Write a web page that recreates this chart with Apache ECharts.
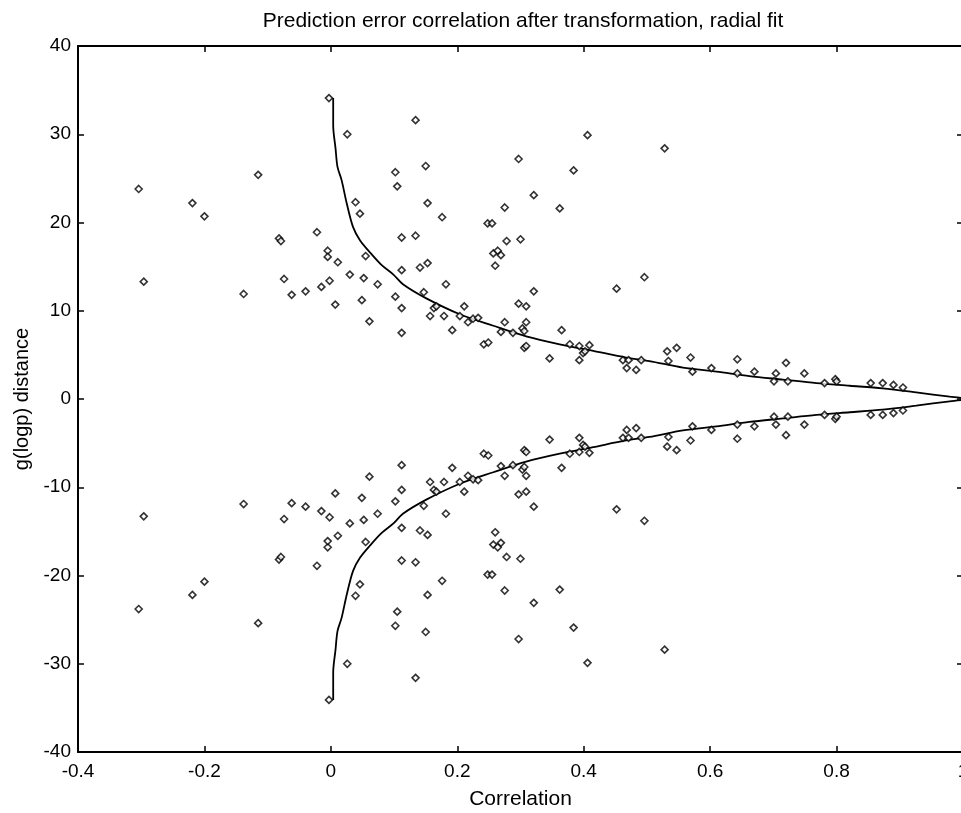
<!DOCTYPE html>
<html>
<head>
<meta charset="utf-8">
<script src="https://cdn.jsdelivr.net/npm/echarts@6/dist/echarts.min.js"></script>
<style>
  html, body { margin: 0; padding: 0; background: #fff; }
  #chart { width: 961px; height: 813px; }
</style>
</head>
<body>
<div id="chart"></div>
<script>
// correlation of each sample (x), shared by both halves
var corrX = [
  -0.304, -0.296, -0.219, -0.200, -0.138, -0.115, -0.082, -0.079, -0.074, -0.062,
  -0.040, -0.022, -0.015, -0.005, -0.005, -0.002, -0.003, 0.011, 0.007, 0.026,
  0.030, 0.039, 0.046, 0.052, 0.049, 0.055, 0.061, 0.074, 0.102, 0.105,
  0.102, 0.112, 0.112, 0.112, 0.112, 0.134, 0.134, 0.141, 0.150, 0.153,
  0.153, 0.147, 0.157, 0.163, 0.167, 0.176, 0.179, 0.182, 0.192, 0.204,
  0.211, 0.217, 0.225, 0.233, 0.242, 0.249, 0.248, 0.255, 0.257, 0.264,
  0.269, 0.260, 0.269, 0.275, 0.278, 0.275, 0.288, 0.297, 0.300, 0.297,
  0.309, 0.303, 0.306, 0.309, 0.306, 0.309, 0.321, 0.321, 0.346, 0.362,
  0.365, 0.378, 0.384, 0.393, 0.393, 0.399, 0.402, 0.406, 0.409, 0.452,
  0.462, 0.471, 0.468, 0.483, 0.491, 0.496, 0.528, 0.532, 0.547, 0.534,
  0.569, 0.572, 0.602, 0.643, 0.643, 0.670, 0.704, 0.701, 0.720, 0.723,
  0.749, 0.781, 0.798, 0.800, 0.854, 0.873, 0.890, 0.905
];
// g(logp) distance, upper half
var distUpper = [
  23.8, 13.3, 22.2, 20.7, 11.9, 25.4, 18.2, 17.9, 13.6, 11.8,
  12.2, 18.9, 12.7, 16.8, 16.1, 13.4, 34.1, 15.5, 10.7, 30.0,
  14.1, 22.3, 21.0, 13.7, 11.2, 16.2, 8.8, 13.0, 25.7, 24.1,
  11.6, 18.3, 14.6, 10.3, 7.5, 31.6, 18.5, 14.9, 26.4, 22.2,
  15.4, 12.1, 9.4, 10.3, 10.5, 20.6, 9.4, 13.0, 7.8, 9.4,
  10.5, 8.7, 9.1, 9.2, 6.2, 6.4, 19.9, 19.9, 16.5, 16.8,
  16.3, 15.1, 7.6, 21.7, 17.9, 8.7, 7.5, 27.2, 18.1, 10.8,
  10.5, 8.0, 7.7, 8.7, 5.8, 6.0, 23.1, 12.2, 4.6, 21.6,
  7.8, 6.2, 25.9, 6.0, 4.4, 5.2, 5.4, 29.9, 6.1, 12.5,
  4.4, 4.4, 3.5, 3.3, 4.4, 13.8, 28.4, 5.4, 5.8, 4.3,
  4.7, 3.1, 3.5, 4.5, 2.9, 3.1, 2.9, 2.0, 4.1, 2.0,
  2.9, 1.8, 2.25, 2.0, 1.8, 1.8, 1.6, 1.3
];
// g(logp) distance, lower half
var distLower = [
  -23.8, -13.3, -22.2, -20.7, -11.9, -25.4, -18.2, -17.9, -13.6, -11.8,
  -12.2, -18.9, -12.7, -16.8, -16.1, -13.4, -34.1, -15.5, -10.7, -30.0,
  -14.1, -22.3, -21.0, -13.7, -11.2, -16.2, -8.8, -13.0, -25.7, -24.1,
  -11.6, -18.3, -14.6, -10.3, -7.5, -31.6, -18.5, -14.9, -26.4, -22.2,
  -15.4, -12.1, -9.4, -10.3, -10.5, -20.6, -9.4, -13.0, -7.8, -9.4,
  -10.5, -8.7, -9.1, -9.2, -6.2, -6.4, -19.9, -19.9, -16.5, -16.8,
  -16.3, -15.1, -7.6, -21.7, -17.9, -8.7, -7.5, -27.2, -18.1, -10.8,
  -10.5, -8.0, -7.7, -8.7, -5.8, -6.0, -23.1, -12.2, -4.6, -21.6,
  -7.8, -6.2, -25.9, -6.0, -4.4, -5.2, -5.4, -29.9, -6.1, -12.5,
  -4.4, -4.4, -3.5, -3.3, -4.4, -13.8, -28.4, -5.4, -5.8, -4.3,
  -4.7, -3.1, -3.5, -4.5, -2.9, -3.1, -2.9, -2.0, -4.1, -2.0,
  -2.9, -1.8, -2.25, -2.0, -1.8, -1.8, -1.6, -1.3
];

// radial fit curve
var fitX = [0.0037, 0.0037, 0.0074, 0.0105, 0.017, 0.025, 0.035, 0.046, 0.062, 0.080,
  0.099, 0.114, 0.151, 0.204, 0.257, 0.309, 0.362, 0.415, 0.467, 0.504,
  0.557, 0.610, 0.662, 0.715, 0.768, 0.821, 0.873, 0.926, 0.979, 1.0];
var fitUpper = [34.1, 31.0, 28.4, 26.3, 24.8, 22.2, 19.5, 18.0, 16.6, 15.2,
  14.1, 13.0, 11.4, 9.6, 8.3, 7.1, 6.2, 5.45, 4.7, 4.3,
  3.55, 3.1, 2.6, 2.2, 1.8, 1.5, 1.2, 0.75, 0.26, 0.1];
var fitLower = [-34.1, -31.0, -28.4, -26.3, -24.8, -22.2, -19.5, -18.0, -16.6, -15.2,
  -14.1, -13.0, -11.4, -9.6, -8.3, -7.1, -6.2, -5.45, -4.7, -4.3,
  -3.55, -3.1, -2.6, -2.2, -1.8, -1.5, -1.2, -0.75, -0.26, -0.1];

function pairs(xs, ys) {
  var out = [];
  for (var i = 0; i < xs.length; ++i) {
    out.push([xs[i], ys[i]]);
  }
  return out;
}

var font = 'Liberation Sans, Arial, sans-serif';
var myChart = echarts.init(document.getElementById('chart'));

var dotStyle = {
  color: '#fff',
  borderColor: '#000',
  borderWidth: 1.6
};

var option = {
  animation: false,
  backgroundColor: '#fff',
  title: {
    text: 'Prediction error correlation after transformation, radial fit',
    left: 518,
    top: 6,
    textAlign: 'center',
    textStyle: { fontFamily: font, fontSize: 21, fontWeight: 'normal', color: '#000' }
  },
  grid: { left: 78, width: 885, top: 46, bottom: 61, show: false, outerBoundsMode: 'none', containLabel: false },
  xAxis: [{
    type: 'value',
    min: -0.4, max: 1, interval: 0.2,
    name: 'Correlation',
    nameLocation: 'middle',
    nameGap: 37,
    nameTextStyle: { fontFamily: font, fontSize: 21, color: '#000' },
    axisLine: { show: true, onZero: false, lineStyle: { color: '#000', width: 2 } },
    axisTick: { inside: true, length: 6, lineStyle: { color: '#000', width: 1.5 } },
    axisLabel: {
      fontFamily: font, fontSize: 19, color: '#000', margin: 10,
      formatter: function (v) { return String(Math.round(v * 10) / 10); }
    },
    splitLine: { show: false }
  }, {
    type: 'value', position: 'top',
    min: -0.4, max: 1, interval: 0.2,
    axisLine: { show: true, onZero: false, lineStyle: { color: '#000', width: 2 } },
    axisTick: { inside: true, length: 6, lineStyle: { color: '#000', width: 1.5 } },
    axisLabel: { show: false },
    splitLine: { show: false }
  }],
  yAxis: [{
    type: 'value',
    min: -40, max: 40, interval: 10,
    name: 'g(logp) distance',
    nameLocation: 'middle',
    nameGap: 45,
    nameTextStyle: { fontFamily: font, fontSize: 20, color: '#000' },
    axisLine: { show: true, onZero: false, lineStyle: { color: '#000', width: 2 } },
    axisTick: { inside: true, length: 6, lineStyle: { color: '#000', width: 1.5 } },
    axisLabel: { fontFamily: font, fontSize: 19, color: '#000', margin: 7 },
    splitLine: { show: false }
  }, {
    type: 'value', position: 'right',
    min: -40, max: 40, interval: 10,
    axisLine: { show: true, onZero: false, lineStyle: { color: '#000', width: 2 } },
    axisTick: { inside: true, length: 6, lineStyle: { color: '#000', width: 1.5 } },
    axisLabel: { show: false },
    splitLine: { show: false }
  }],
  series: [{
    name: 'fit upper',
    type: 'line',
    data: pairs(fitX, fitUpper),
    smooth: 0.3,
    showSymbol: false,
    lineStyle: { color: '#000', width: 1.8 },
    z: 2
  }, {
    name: 'fit lower',
    type: 'line',
    data: pairs(fitX, fitLower),
    smooth: 0.3,
    showSymbol: false,
    lineStyle: { color: '#000', width: 1.8 },
    z: 2
  }, {
    name: 'upper',
    type: 'scatter',
    data: pairs(corrX, distUpper),
    symbol: 'diamond',
    symbolSize: 7,
    itemStyle: dotStyle,
    z: 3
  }, {
    name: 'lower',
    type: 'scatter',
    data: pairs(corrX, distLower),
    symbol: 'diamond',
    symbolSize: 7,
    itemStyle: dotStyle,
    z: 3
  }]
};

myChart.setOption(option);
</script>
</body>
</html>
